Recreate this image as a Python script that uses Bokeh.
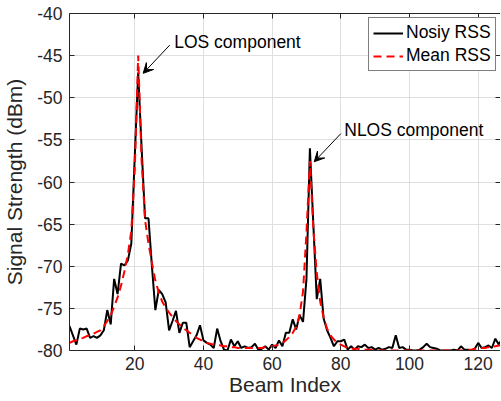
from bokeh.plotting import figure
from bokeh.models import (Range1d, LinearAxis, FixedTicker, Arrow, VeeHead, Label,
                          Legend, LegendItem, ColumnDataSource)
from bokeh.embed import file_html
from bokeh.resources import INLINE

# ---------------- data ----------------
beam_index = list(range(1, 129))

noisy_rss = [
    -77.1, -78.2, -79.3, -77.4, -77.5, -77.4, -78.5, -78.3, -78.5, -78.2,
    -77.6, -75.2, -76.9, -71.5, -73.3, -69.7, -69.9, -69.3, -67.3, -57.0,
    -47.0, -56.0, -64.3, -64.3, -70.0, -75.2, -72.8, -73.3, -74.3, -77.6,
    -76.5, -75.3, -77.9, -76.7, -76.7, -79.6, -78.9, -78.2, -77.0, -78.8,
    -79.1, -79.3, -79.7, -77.4, -78.9, -79.9, -80.0, -78.7, -79.5, -78.9,
    -79.7, -79.5, -79.7, -79.6, -79.2, -79.9, -79.8, -79.5, -79.9, -79.3,
    -79.7, -78.8, -79.5, -77.9, -77.9, -76.3, -77.5, -75.8, -76.6, -71.5,
    -56.0, -65.0, -73.9, -71.5, -76.2, -77.6, -78.5, -79.5, -78.9, -78.9,
    -78.7, -79.9, -79.5, -79.9, -79.5, -79.6, -79.3, -79.7, -79.6, -79.9,
    -79.7, -79.9, -79.8, -79.6, -79.7, -78.2, -79.7, -79.6, -79.9, -79.9,
    -80.0, -80.0, -79.9, -79.6, -79.2, -79.6, -79.7, -79.8, -80.0, -80.0,
    -80.0, -80.0, -79.9, -80.0, -79.5, -79.9, -79.9, -80.0, -79.8, -79.1,
    -79.7, -79.6, -79.4, -79.7, -78.6, -79.3, -78.6, -79.0,
]

mean_rss = [
    -79.1, -78.9, -78.8, -78.6, -78.5, -78.3, -78.2, -78.0, -77.8, -77.6,
    -77.1, -76.5, -75.8, -74.8, -73.7, -72.3, -70.6, -68.6, -65.8, -58.5,
    -45.0, -57.5, -64.5, -67.3, -69.6, -71.7, -73.1, -74.2, -74.9, -75.5,
    -76.0, -76.5, -76.9, -77.3, -77.6, -77.9, -78.2, -78.5, -78.7, -78.9,
    -79.1, -79.2, -79.3, -79.3, -79.4, -79.5, -79.5, -79.6, -79.6, -79.7,
    -79.7, -79.7, -79.7, -79.7, -79.7, -79.7, -79.7, -79.6, -79.6, -79.5,
    -79.4, -79.3, -79.1, -78.8, -78.4, -77.9, -77.2, -75.8, -73.0, -66.0,
    -57.5, -65.5, -70.8, -74.2, -76.1, -77.4, -78.2, -78.7, -79.1, -79.3,
    -79.5, -79.7, -79.8, -79.8, -79.8, -79.9, -79.9, -79.9, -79.9, -80.0,
    -80.0, -80.0, -80.0, -80.0, -80.0, -80.0, -80.0, -80.0, -80.0, -80.0,
    -80.0, -80.0, -80.0, -80.0, -80.0, -80.0, -80.0, -80.0, -80.0, -80.0,
    -80.0, -80.0, -80.0, -80.0, -80.0, -80.0, -79.9, -79.9, -79.8, -79.8,
    -79.7, -79.7, -79.6, -79.6, -79.5, -79.4, -79.3, -79.2,
]

x_ticks = [20, 40, 60, 80, 100, 120]
x_tick_labels = ["20", "40", "60", "80", "100", "120"]
y_ticks = [-80, -75, -70, -65, -60, -55, -50, -45, -40]
y_tick_labels = ["-80", "-75", "-70", "-65", "-60", "-55", "-50", "-45", "-40"]

series_names = ["Nosiy RSS", "Mean RSS"]
annot_texts = ["LOS component", "NLOS component"]

# ---------------- style ----------------
FONT = "Liberation Sans"
AX = "#262626"
GRID = "#dfdfdf"
TICK_FS = "17.5px"
LABEL_FS = "21px"

src = ColumnDataSource(dict(x=beam_index, noisy=noisy_rss, mean=mean_rss))

p = figure(width=500, height=400, output_backend="svg", toolbar_location=None,
           x_range=Range1d(1, 126.5), y_range=Range1d(-80, -40),
           min_border_left=68, min_border_right=0, min_border_top=13,
           min_border_bottom=50)
p.outline_line_color = None
p.background_fill_color = "white"
p.border_fill_color = "white"

# grid
p.xgrid.ticker = FixedTicker(ticks=x_ticks)
p.ygrid.ticker = FixedTicker(ticks=y_ticks)
for g in (p.xgrid, p.ygrid):
    g.grid_line_color = GRID
    g.grid_line_width = 1

def style_axis(ax):
    ax.axis_line_color = AX
    ax.axis_line_width = 1
    ax.major_tick_line_color = AX
    ax.major_tick_in = 5
    ax.major_tick_out = 0
    ax.minor_tick_in = 0
    ax.minor_tick_out = 0
    ax.minor_tick_line_color = None
    ax.major_label_text_font = FONT
    ax.major_label_text_font_size = TICK_FS
    ax.major_label_text_color = AX
    ax.axis_label_text_font = FONT
    ax.axis_label_text_font_size = LABEL_FS
    ax.axis_label_text_font_style = "normal"
    ax.axis_label_text_color = AX

xa = p.xaxis[0]
style_axis(xa)
xa.ticker = FixedTicker(ticks=x_ticks)
xa.major_label_overrides = dict(zip(x_ticks, x_tick_labels))
xa.axis_label = "Beam Index"
xa.major_label_standoff = 6
xa.axis_label_standoff = 0

ya = p.yaxis[0]
style_axis(ya)
ya.ticker = FixedTicker(ticks=y_ticks)
ya.major_label_overrides = dict(zip(y_ticks, y_tick_labels))
ya.axis_label = "Signal Strength (dBm)"
ya.major_label_standoff = 7
ya.axis_label_standoff = 8

# top and right box sides with inward ticks, no labels
top_ax = LinearAxis(ticker=FixedTicker(ticks=x_ticks))
style_axis(top_ax)
top_ax.major_label_text_color = None
top_ax.major_label_standoff = 0
p.add_layout(top_ax, "above")

right_ax = LinearAxis(ticker=FixedTicker(ticks=y_ticks))
style_axis(right_ax)
right_ax.axis_line_color = None
right_ax.major_label_text_color = None
right_ax.major_label_standoff = 0
p.add_layout(right_ax, "right")

# lines
r_noisy = p.line(x="x", y="noisy", source=src, line_color="black", line_width=2)
r_mean = p.line(x="x", y="mean", source=src, line_color="red", line_width=2,
                line_dash="8 5")

legend = Legend(items=[LegendItem(label=series_names[0], renderers=[r_noisy]),
                       LegendItem(label=series_names[1], renderers=[r_mean])],
                location=(299, 279))
legend.border_line_color = "black"
legend.border_line_width = 1
legend.background_fill_color = "white"
legend.background_fill_alpha = 1
legend.label_text_font = FONT
legend.label_text_font_size = "17.5px"
legend.label_text_color = "black"
legend.glyph_width = 30
legend.glyph_height = 20
legend.label_height = 20
legend.label_standoff = 3
legend.padding = 4
legend.spacing = 2
legend.margin = 0
p.add_layout(legend)

# annotations
p.add_layout(Arrow(x_start=30.2, y_start=-43.75, x_end=22.45, y_end=-47.1,
                   line_color="black", line_width=1,
                   end=VeeHead(size=10, fill_color="black", line_color="black", line_width=1)))
p.add_layout(Arrow(x_start=80.0, y_start=-54.26, x_end=72.26, y_end=-57.6,
                   line_color="black", line_width=1,
                   end=VeeHead(size=10, fill_color="black", line_color="black", line_width=1)))
p.add_layout(Label(x=31.5, y=-43.36, text=annot_texts[0], text_font=FONT,
                   text_font_size="17.5px", text_color="black",
                   text_baseline="alphabetic", text_align="left"))
p.add_layout(Label(x=81.0, y=-53.8, text=annot_texts[1], text_font=FONT,
                   text_font_size="17.5px", text_color="black",
                   text_baseline="alphabetic", text_align="left"))

open("out.html", "w").write(file_html(p, INLINE))
